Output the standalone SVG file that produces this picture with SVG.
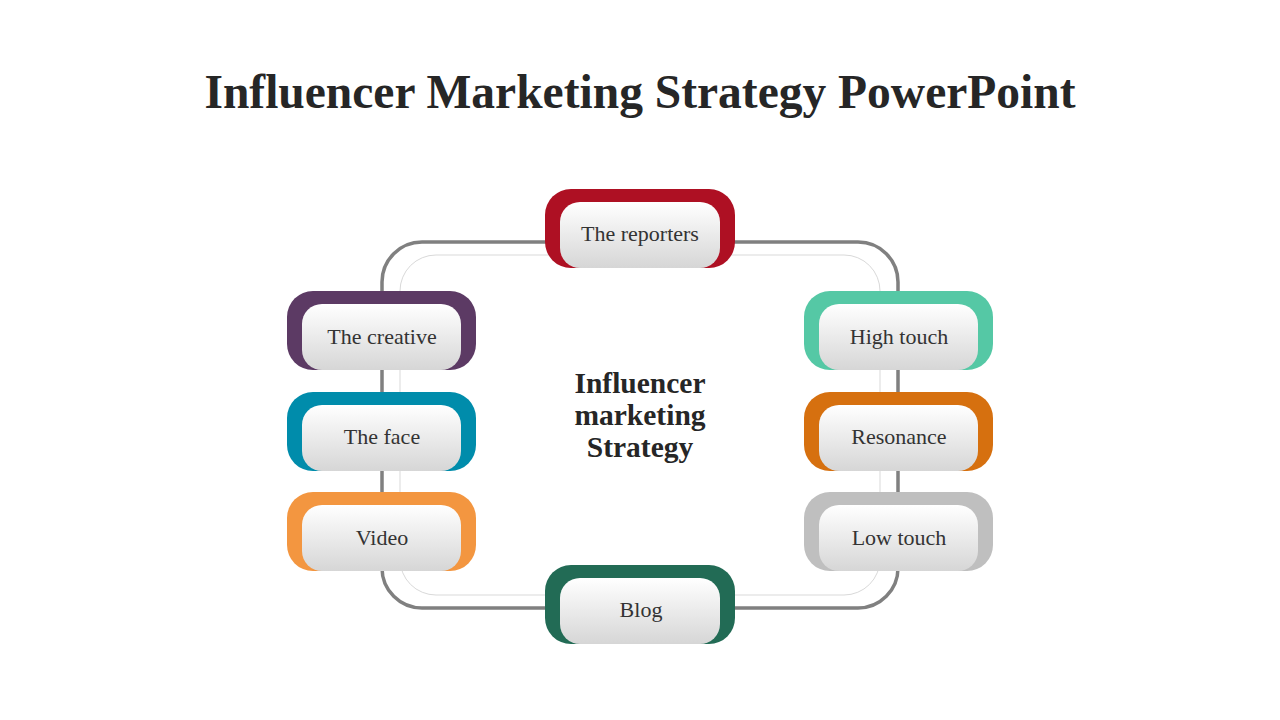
<svg xmlns="http://www.w3.org/2000/svg" width="1280" height="720" viewBox="0 0 1280 720">
<defs>
<linearGradient id="g" x1="0" y1="0" x2="0" y2="1">
<stop offset="0" stop-color="#ffffff"/>
<stop offset="1" stop-color="#d6d6d6"/>
</linearGradient>
<style>
.title{font-family:"Liberation Serif","DejaVu Serif",serif;font-weight:bold;font-size:47.5px;fill:#262626;text-anchor:middle}
.center{font-family:"Liberation Serif","DejaVu Serif",serif;font-weight:bold;font-size:29.5px;fill:#262626;text-anchor:middle}
.lbl{font-family:"Liberation Serif","DejaVu Serif",serif;font-size:22px;fill:#333333;text-anchor:middle}
.inner{fill:url(#g)}
</style>
</defs>
<rect width="1280" height="720" fill="#ffffff"/>
<text class="title" x="640" y="108">Influencer Marketing Strategy PowerPoint</text>
<g id="connectors">
<rect x="382" y="242" width="516" height="366" rx="40" fill="none" stroke="#808080" stroke-width="3.5"/>
<rect x="400" y="255" width="480" height="340" rx="36" fill="none" stroke="#d9d9d9" stroke-width="1"/>
</g>
<text class="center" x="640" y="393">Influencer</text>
<text class="center" x="640" y="425">marketing</text>
<text class="center" x="640" y="457">Strategy</text>
<g id="reporters">
<rect x="545" y="189" width="190" height="79" rx="26" fill="#ae1023"/>
<rect class="inner" x="560" y="202" width="160" height="66" rx="20"/>
<text class="lbl" x="640" y="241">The reporters</text>
</g>
<g id="creative">
<rect x="287" y="291" width="189" height="79" rx="26" fill="#5c3a64"/>
<rect class="inner" x="302" y="304" width="159" height="66" rx="20"/>
<text class="lbl" x="382" y="344">The creative</text>
</g>
<g id="face">
<rect x="287" y="392" width="189" height="79" rx="26" fill="#008cab"/>
<rect class="inner" x="302" y="405" width="159" height="66" rx="20"/>
<text class="lbl" x="382" y="444">The face</text>
</g>
<g id="video">
<rect x="287" y="492" width="189" height="79" rx="26" fill="#f39640"/>
<rect class="inner" x="302" y="505" width="159" height="66" rx="20"/>
<text class="lbl" x="382" y="545">Video</text>
</g>
<g id="blog">
<rect x="545" y="565" width="190" height="79" rx="26" fill="#226b55"/>
<rect class="inner" x="560" y="578" width="160" height="66" rx="20"/>
<text class="lbl" x="641" y="617">Blog</text>
</g>
<g id="hightouch">
<rect x="804" y="291" width="189" height="79" rx="26" fill="#55c8a5"/>
<rect class="inner" x="819" y="304" width="159" height="66" rx="20"/>
<text class="lbl" x="899" y="344">High touch</text>
</g>
<g id="resonance">
<rect x="804" y="392" width="189" height="79" rx="26" fill="#d6700f"/>
<rect class="inner" x="819" y="405" width="159" height="66" rx="20"/>
<text class="lbl" x="899" y="444">Resonance</text>
</g>
<g id="lowtouch">
<rect x="804" y="492" width="189" height="79" rx="26" fill="#bfbfbf"/>
<rect class="inner" x="819" y="505" width="159" height="66" rx="20"/>
<text class="lbl" x="899" y="545">Low touch</text>
</g>
</svg>
